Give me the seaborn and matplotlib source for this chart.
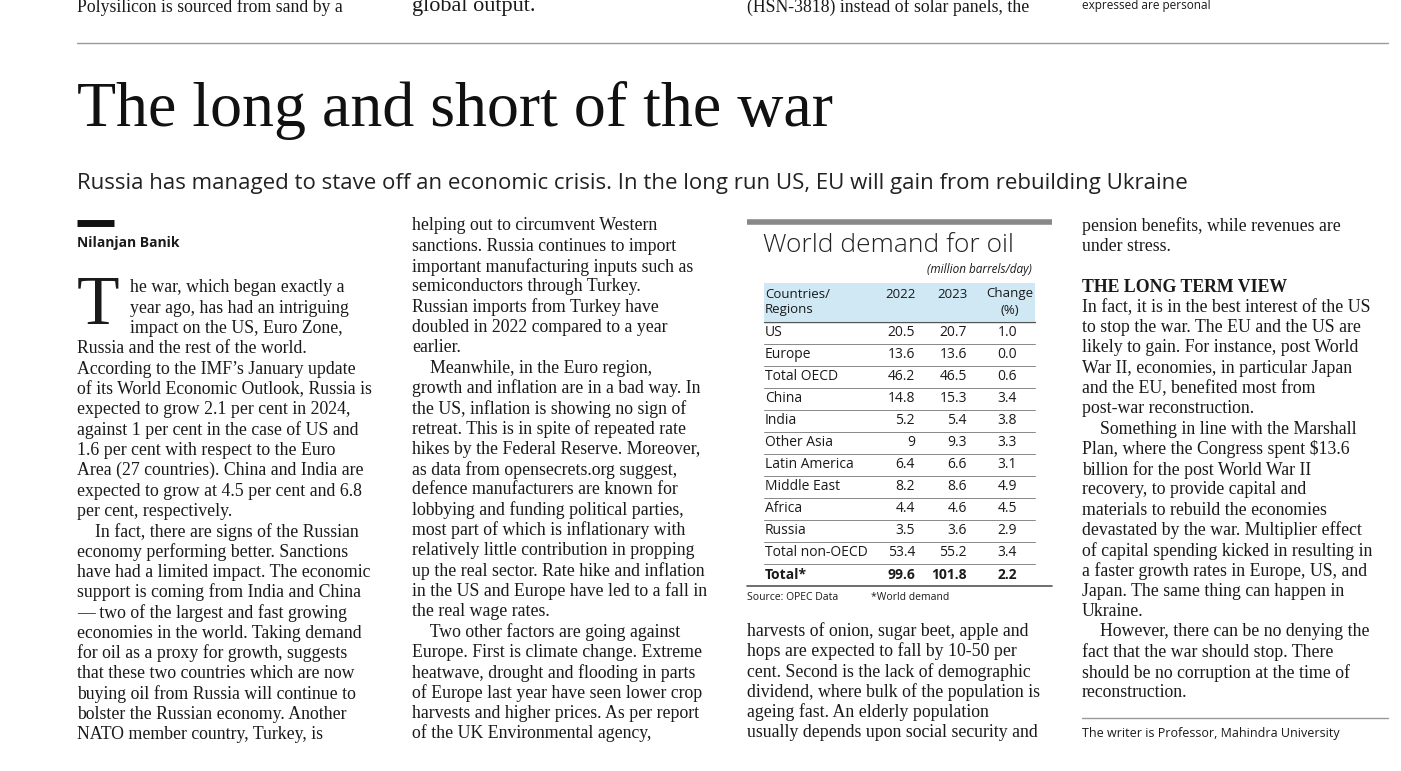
import matplotlib
matplotlib.use("Agg")
import matplotlib.pyplot as plt
import seaborn as sns

sns.set_theme(style="white")
plt.rcParams['font.family'] = ['Liberation Serif', 'DejaVu Serif']

# ---- data ----
regions = ["US", "Europe", "Total OECD", "China", "India", "Other Asia", "Latin America",
           "Middle East", "Africa", "Russia", "Total non-OECD", "Total*"]
v2022 = ["20.5", "13.6", "46.2", "14.8", "5.2", "9", "6.4", "8.2", "4.4", "3.5", "53.4", "99.6"]
v2023 = ["20.7", "13.6", "46.5", "15.3", "5.4", "9.3", "6.6", "8.6", "4.6", "3.6", "55.2", "101.8"]
change = ["1.0", "0.0", "0.6", "3.4", "3.8", "3.3", "3.1", "4.9", "4.5", "2.9", "3.4", "2.2"]

col1 = ["he war, which began exactly a", "year ago, has had an intriguing", "impact on the US, Euro Zone,",
        "Russia and the rest of the world.", "According to the IMF’s January update",
        "of its World Economic Outlook, Russia is", "expected to grow 2.1 per cent in 2024,",
        "against 1 per cent in the case of US and", "1.6 per cent with respect to the Euro",
        "Area (27 countries). China and India are", "expected to grow at 4.5 per cent and 6.8",
        "per cent, respectively.", "    In fact, there are signs of the Russian",
        "economy performing better. Sanctions", "have had a limited impact. The economic",
        "support is coming from India and China", "— two of the largest and fast growing",
        "economies in the world. Taking demand", "for oil as a proxy for growth, suggests",
        "that these two countries which are now", "buying oil from Russia will continue to",
        "bolster the Russian economy. Another", "NATO member country, Turkey, is"]
col2 = ["helping out to circumvent Western", "sanctions. Russia continues to import",
        "important manufacturing inputs such as", "semiconductors through Turkey.",
        "Russian imports from Turkey have", "doubled in 2022 compared to a year", "earlier.",
        "    Meanwhile, in the Euro region,", "growth and inflation are in a bad way. In",
        "the US, inflation is showing no sign of", "retreat. This is in spite of repeated rate",
        "hikes by the Federal Reserve. Moreover,", "as data from opensecrets.org suggest,",
        "defence manufacturers are known for", "lobbying and funding political parties,",
        "most part of which is inflationary with", "relatively little contribution in propping",
        "up the real sector. Rate hike and inflation", "in the US and Europe have led to a fall in",
        "the real wage rates.", "    Two other factors are going against",
        "Europe. First is climate change. Extreme", "heatwave, drought and flooding in parts",
        "of Europe last year have seen lower crop", "harvests and higher prices. As per report",
        "of the UK Environmental agency,"]
col3 = ["harvests of onion, sugar beet, apple and", "hops are expected to fall by 10-50 per",
        "cent. Second is the lack of demographic", "dividend, where bulk of the population is",
        "ageing fast. An elderly population", "usually depends upon social security and"]
col4 = ["pension benefits, while revenues are", "under stress.", "", "",
        "In fact, it is in the best interest of the US", "to stop the war. The EU and the US are",
        "likely to gain. For instance, post World", "War II, economies, in particular Japan",
        "and the EU, benefited most from", "post-war reconstruction.",
        "    Something in line with the Marshall", "Plan, where the Congress spent $13.6",
        "billion for the post World War II", "recovery, to provide capital and",
        "materials to rebuild the economies", "devastated by the war. Multiplier effect",
        "of capital spending kicked in resulting in", "a faster growth rates in Europe, US, and",
        "Japan. The same thing can happen in", "Ukraine.", "    However, there can be no denying the",
        "fact that the war should stop. There", "should be no corruption at the time of",
        "reconstruction."]

fig = plt.figure(figsize=(14.01, 7.71), dpi=100)
ax = fig.add_axes([0, 0, 1, 1])
ax.set_xlim(0, 1401)
ax.set_ylim(771, 0)
ax.axis("off")
ink = "#1a1a1a"
BS = 12.8
LS = 20.3

# top lines (continued from the previous page section)
ax.text(77, 7, "Polysilicon is sourced from sand by a", fontsize=BS, va="center", color=ink)
ax.text(412, 7, "global output.", fontsize=16, va="center", color=ink)
ax.text(747, 7, "(HSN-3818) instead of solar panels, the", fontsize=BS, va="center", color=ink)
ax.text(1082, 6, "expressed are personal", fontsize=8.5, family="Open Sans", va="center", color=ink)
ax.plot([77, 1388], [43, 43], color="#999999", lw=1)

ax.text(77, 110, "The long and short of the war", fontsize=46, va="center", color="#111111")
ax.text(77, 184, "Russia has managed to stave off an economic crisis. In the long run US, EU will gain from rebuilding Ukraine",
        fontsize=16, family="Open Sans", va="center", color="#222222")
ax.plot([77, 114], [223, 223], color="#111111", lw=5, solid_capstyle="butt")
ax.text(77, 243, "Nilanjan Banik", fontsize=10, family="Open Sans", weight="bold", va="center", color=ink)

# body columns
ax.text(77, 307, "T", fontsize=50, va="center", color=ink)
for i, s in enumerate(col1):
    ax.text(130 if i < 3 else 77, 288 + i * LS, s, fontsize=BS, va="center", color=ink)
for i, s in enumerate(col2):
    ax.text(412, 226 + i * LS, s, fontsize=BS, va="center", color=ink)
for i, s in enumerate(col3):
    ax.text(747, 631 + i * LS, s, fontsize=BS, va="center", color=ink)
for i, s in enumerate(col4):
    ax.text(1082, 226 + i * LS, s, fontsize=BS, va="center", color=ink)
ax.text(1082, 287, "THE LONG TERM VIEW", fontsize=BS, weight="bold", va="center", color=ink)
ax.plot([1082, 1388], [718, 718], color="#999999", lw=1)
ax.text(1082, 734, "The writer is Professor, Mahindra University", fontsize=9, family="Open Sans", va="center", color=ink)

# table
sf = "Open Sans"
ax.plot([747, 1052], [222, 222], color="#888888", lw=4, solid_capstyle="butt")
ax.text(763, 245, "World demand for oil", fontsize=19, family=sf, weight="light", va="center", color="#222222")
ax.text(1032, 270, "(million barrels/day)", fontsize=8.5, family=sf, style="italic", ha="right", va="center", color=ink)
ax.fill_between([764, 1035], 283, 321, color="#cfe8f4", lw=0)
ax.text(765, 302, "Countries/\nRegions", fontsize=9.5, family=sf, va="center", linespacing=1.3, color=ink)
ax.text(901, 294, "2022", fontsize=9.5, family=sf, ha="center", va="center", color=ink)
ax.text(952, 294, "2023", fontsize=9.5, family=sf, ha="center", va="center", color=ink)
ax.text(1010, 302, "Change\n(%)", fontsize=9.5, family=sf, ha="center", va="center", linespacing=1.3, color=ink)
ax.plot([764, 1035], [321.5, 321.5], color="#555555", lw=1)
for k, (r, a, b, c) in enumerate(zip(regions, v2022, v2023, change)):
    y = 333 + 22 * k
    w = "bold" if k == len(regions) - 1 else "normal"
    ax.text(765, y, r, fontsize=10, family=sf, weight=w, va="center", color=ink)
    ax.text(915, y, a, fontsize=10, family=sf, weight=w, ha="right", va="center", color=ink)
    ax.text(967, y, b, fontsize=10, family=sf, weight=w, ha="right", va="center", color=ink)
    ax.text(1017, y, c, fontsize=10, family=sf, weight=w, ha="right", va="center", color=ink)
    if k < len(regions) - 1:
        ax.plot([764, 1035], [y + 11, y + 11], color="#888888", lw=0.7)
ax.plot([747, 1052], [586, 586], color="#555555", lw=1.2)
ax.text(747, 597, "Source: OPEC Data", fontsize=7.5, family=sf, va="center", color=ink)
ax.text(871, 597, "*World demand", fontsize=7.5, family=sf, va="center", color=ink)

fig.savefig("out.png", dpi=100, facecolor="white")
